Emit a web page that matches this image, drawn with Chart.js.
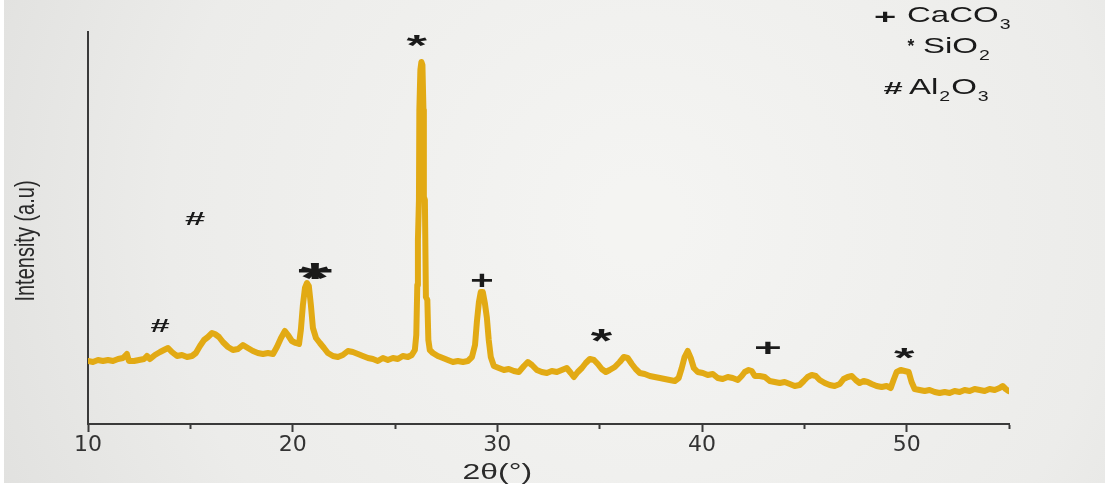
<!DOCTYPE html>
<html>
<head>
<meta charset="utf-8">
<title>XRD pattern</title>
<script src="https://cdn.jsdelivr.net/npm/chart.js@4.4.0/dist/chart.umd.min.js"></script>
<style>
  html, body { margin: 0; padding: 0; background: #ffffff; }
  canvas { display: block; }
</style>
</head>
<body>
<canvas id="xrd" width="1105" height="486"></canvas>
<script>
// Diffraction pattern: 2θ (degrees) and intensity (arbitrary units)
const twoTheta = [
  10.00, 10.24, 10.49, 10.73, 10.98, 11.22, 11.47, 11.71, 11.90, 12.00,
  12.25, 12.49, 12.74, 12.88, 13.03, 13.27, 13.52, 13.71, 13.91, 14.10,
  14.35, 14.59, 14.84, 15.08, 15.27, 15.47, 15.67, 15.86, 16.06, 16.20,
  16.40, 16.59, 16.84, 17.08, 17.33, 17.57, 17.81, 18.06, 18.30, 18.55,
  18.79, 19.04, 19.23, 19.43, 19.62, 19.77, 19.96, 20.15, 20.31, 20.40,
  20.50, 20.60, 20.70, 20.79, 20.89, 20.99, 21.14, 21.33, 21.53, 21.72,
  21.97, 22.21, 22.45, 22.70, 22.94, 23.19, 23.43, 23.68, 23.92, 24.16,
  24.41, 24.65, 24.90, 25.14, 25.38, 25.63, 25.82, 25.97, 26.04, 26.09,
  26.12, 26.17, 26.19, 26.24, 26.29, 26.34, 26.39, 26.41, 26.46, 26.51,
  26.58, 26.63, 26.70, 26.85, 27.09, 27.34, 27.58, 27.83, 28.07, 28.32,
  28.56, 28.76, 28.91, 29.00, 29.10, 29.19, 29.29, 29.39, 29.49, 29.58,
  29.68, 29.83, 30.07, 30.32, 30.56, 30.81, 31.05, 31.30, 31.49, 31.69,
  31.93, 32.17, 32.42, 32.66, 32.91, 33.15, 33.39, 33.59, 33.74, 33.93,
  34.13, 34.32, 34.52, 34.72, 34.91, 35.10, 35.30, 35.49, 35.74, 35.98,
  36.18, 36.37, 36.57, 36.76, 36.96, 37.20, 37.45, 37.69, 37.94, 38.18,
  38.42, 38.67, 38.86, 39.01, 39.15, 39.30, 39.45, 39.60, 39.79, 40.04,
  40.28, 40.53, 40.77, 41.01, 41.26, 41.50, 41.75, 41.94, 42.09, 42.28,
  42.43, 42.58, 42.82, 43.07, 43.31, 43.55, 43.80, 44.04, 44.29, 44.53,
  44.77, 44.97, 45.16, 45.36, 45.56, 45.75, 46.00, 46.24, 46.48, 46.73,
  46.92, 47.12, 47.32, 47.51, 47.70, 47.90, 48.09, 48.29, 48.53, 48.78,
  49.02, 49.22, 49.36, 49.51, 49.71, 49.90, 50.10, 50.24, 50.39, 50.63,
  50.88, 51.12, 51.37, 51.61, 51.86, 52.10, 52.34, 52.59, 52.83, 53.08,
  53.32, 53.57, 53.81, 54.05, 54.30, 54.54, 54.69, 54.84, 54.98
];
const intensity = [
  63, 62, 64, 63, 64, 63, 65, 66, 70, 63,
  63, 64, 65, 68, 65, 69, 72, 74, 76, 72,
  68, 69, 67, 68, 71, 78, 84, 87, 91, 90,
  87, 82, 77, 74, 75, 79, 76, 73, 71, 70,
  71, 70, 77, 86, 93, 89, 83, 81, 80, 94,
  119, 136, 141, 138, 119, 96, 86, 81, 76, 71,
  68, 67, 69, 73, 72, 70, 68, 66, 65, 63,
  66, 64, 66, 65, 68, 67, 69, 74, 89, 139,
  184, 224, 314, 354, 362, 359, 314, 227, 224, 127,
  124, 84, 74, 71, 68, 66, 64, 62, 63, 62,
  63, 67, 79, 102, 122, 132, 132, 121, 106, 84,
  67, 58, 56, 54, 55, 53, 52, 58, 62, 59,
  54, 52, 51, 53, 52, 54, 56, 51, 47, 52,
  56, 61, 65, 64, 60, 55, 52, 54, 57, 62,
  67, 66, 60, 55, 51, 50, 48, 47, 46, 45,
  44, 43, 46, 56, 67, 73, 66, 56, 52, 51,
  49, 50, 46, 45, 47, 46, 44, 48, 52, 54,
  53, 48, 48, 47, 43, 42, 41, 42, 40, 38,
  39, 43, 47, 49, 48, 44, 41, 39, 38, 40,
  45, 47, 48, 44, 41, 43, 42, 40, 38, 37,
  38, 36, 44, 52, 54, 53, 52, 42, 35, 34,
  33, 34, 32, 31, 32, 31, 33, 32, 34, 33,
  35, 34, 33, 35, 34, 36, 38, 35, 33
];

// Phase markers above the reflections
const peakAngles  = [13.52, 15.23, 21.09, 21.09, 26.07, 29.24, 35.10, 43.21, 49.90];
const peakHeights = [99, 206, 153, 153, 384, 144, 88, 76, 71];
const peakSymbols = ['#', '#', '*', '+', '*', '+', '*', '+', '*'];

// Labelled ticks on the 2θ axis
const xTickLabels = ['10', '20', '30', '40', '50'];

const INK = '#1a1a1a';
const AXIS = '#3a3a3a';
const TRACE = '#e2aa14';

// glyph box (w, h) for each marker symbol
const markerBox = [
  [19, 13], [20, 13], [30, 17], [34, 16], [21, 12], [21, 14], [22, 13], [25, 13], [21, 11]
];

function fitGlyph(ctx, ch, cx, cy, w, h, font) {
  ctx.save();
  ctx.font = font;
  ctx.textAlign = 'left';
  ctx.textBaseline = 'alphabetic';
  const m = ctx.measureText(ch);
  const bw = m.actualBoundingBoxLeft + m.actualBoundingBoxRight;
  const bh = m.actualBoundingBoxAscent + m.actualBoundingBoxDescent;
  ctx.translate(cx, cy);
  ctx.scale(w / bw, h / bh);
  ctx.fillText(ch, -bw / 2 + m.actualBoundingBoxLeft, bh / 2 - m.actualBoundingBoxDescent);
  ctx.restore();
}

function wideText(ctx, str, x, y, font, sx, align) {
  ctx.save();
  ctx.font = font;
  ctx.textAlign = align || 'left';
  ctx.textBaseline = 'alphabetic';
  ctx.translate(x, y);
  ctx.scale(sx, 1);
  ctx.fillText(str, 0, 0);
  const w = ctx.measureText(str).width * sx;
  ctx.restore();
  return w;
}

// sequence of [text, isSubscript] pieces
function formula(ctx, parts, x, baseline) {
  let cx = x;
  for (const [t, sub] of parts) {
    if (sub) cx += wideText(ctx, t, cx + 1, baseline + 7, '15px "Liberation Sans", Arial, sans-serif', 1.3) + 2;
    else cx += wideText(ctx, t, cx, baseline, '22px "Liberation Sans", Arial, sans-serif', 1.5);
  }
}

const paperPlugin = {
  id: 'paper',
  beforeDraw(chart) {
    const { ctx, width, height } = chart;
    ctx.save();
    const g = ctx.createRadialGradient(640, 220, 40, 640, 220, 760);
    g.addColorStop(0, '#f4f4f2');
    g.addColorStop(0.6, '#ececea');
    g.addColorStop(1, '#dededc');
    ctx.fillStyle = g;
    ctx.fillRect(0, 0, width, height);
    ctx.fillStyle = '#ffffff';
    ctx.fillRect(0, height - 3, width, 3);
    ctx.fillRect(0, 0, 4, height);
    ctx.restore();
  }
};

const labelsPlugin = {
  id: 'labels',
  afterDraw(chart) {
    const { ctx } = chart;
    const xs = chart.scales.x, ys = chart.scales.y;
    ctx.save();
    ctx.fillStyle = INK;

    // phase markers
    peakSymbols.forEach((s, i) => {
      const px = xs.getPixelForValue(peakAngles[i]);
      const py = ys.getPixelForValue(peakHeights[i]);
      fitGlyph(ctx, s, px, py, markerBox[i][0], markerBox[i][1], 'bold 40px "Liberation Sans", Arial, sans-serif');
    });

    // key
    const kf = 'bold 40px "Liberation Sans", Arial, sans-serif';
    fitGlyph(ctx, '+', 885, 17, 20, 11, kf);
    formula(ctx, [['CaCO', false], ['3', true]], 907, 22);
    fitGlyph(ctx, '*', 911, 43, 7, 7, kf);
    formula(ctx, [['SiO', false], ['2', true]], 923, 53);
    fitGlyph(ctx, '#', 893, 88, 19, 12, kf);
    formula(ctx, [['Al', false], ['2', true], ['O', false], ['3', true]], 909, 94);

    // axis titles
    ctx.fillStyle = '#2a2a2a';
    ctx.save();
    ctx.translate(27, 241);
    ctx.rotate(-Math.PI / 2);
    ctx.scale(1, 1.35);
    ctx.font = '20px "Liberation Sans", Arial, sans-serif';
    ctx.textAlign = 'center';
    ctx.textBaseline = 'middle';
    ctx.fillText('Intensity (a.u)', 0, 0);
    ctx.restore();
    wideText(ctx, '2θ(°)', xs.getPixelForValue(30), 479, '22px "Liberation Sans", Arial, sans-serif', 1.45, 'center');
    ctx.restore();
  }
};

new Chart(document.getElementById('xrd'), {
  type: 'line',
  data: {
    datasets: [{
      data: twoTheta.map((t, i) => ({ x: t, y: intensity[i] })),
      borderColor: TRACE,
      borderWidth: 6,
      borderJoinStyle: 'round',
      borderCapStyle: 'round',
      pointRadius: 0,
      tension: 0,
      fill: false
    }]
  },
  options: {
    responsive: false,
    animation: false,
    devicePixelRatio: 1,
    layout: { padding: { left: 88, right: 96, top: 32, bottom: 0 } },
    plugins: { legend: { display: false }, tooltip: { enabled: false } },
    scales: {
      x: {
        type: 'linear',
        min: 10,
        max: 55,
        afterFit: s => { s.height = 62; },
        border: { display: true, color: AXIS, width: 2 },
        grid: {
          display: true,
          drawOnChartArea: false,
          drawTicks: true,
          tickLength: 8,
          tickWidth: 2,
          tickColor: AXIS,
          tickBorderDash: c => (c.tick && xTickLabels.includes(String(c.tick.value))) ? [] : [4, 40]
        },
        ticks: {
          stepSize: 5,
          autoSkip: false,
          maxRotation: 0,
          padding: 0,
          color: '#333333',
          font: { family: '"DejaVu Sans", sans-serif', size: 22 },
          callback: v => xTickLabels.includes(String(v)) ? String(v) : ''
        }
      },
      y: {
        min: 0,
        max: 392,
        afterFit: s => { s.width = 0; },
        border: { display: true, color: AXIS, width: 2 },
        grid: { display: true, drawOnChartArea: false, drawTicks: false },
        ticks: { display: false }
      }
    }
  },
  plugins: [paperPlugin, labelsPlugin]
});
</script>
</body>
</html>
